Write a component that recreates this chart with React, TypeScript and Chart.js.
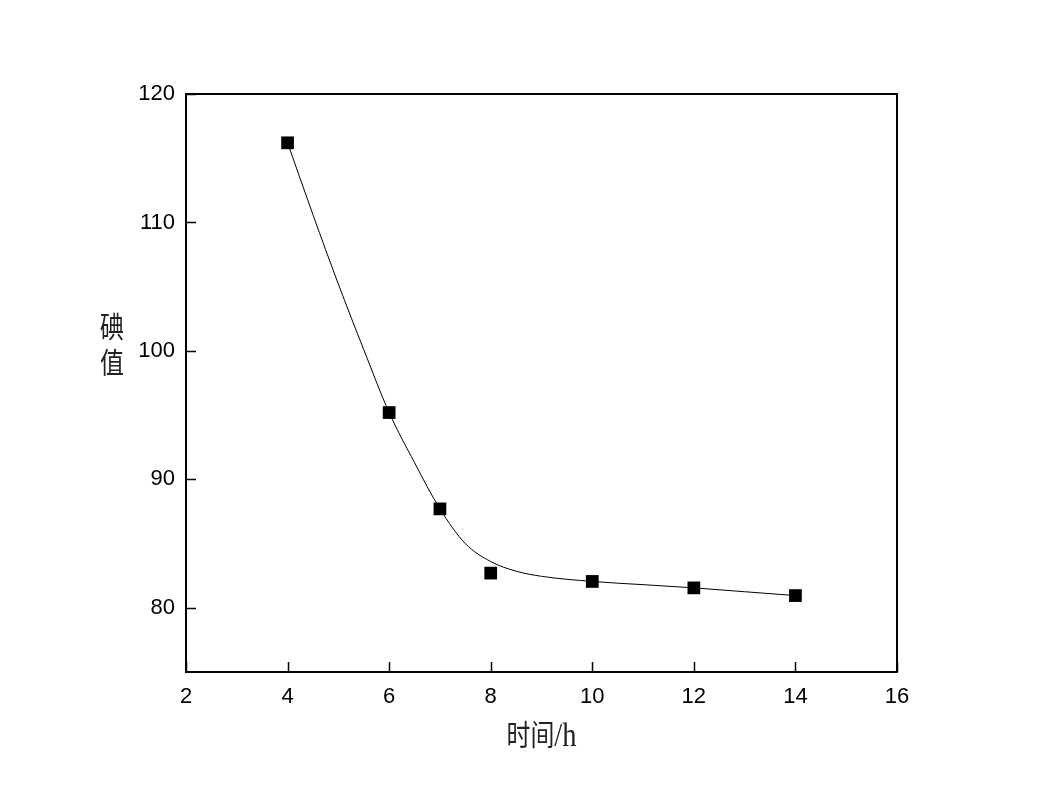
import React, { useEffect, useRef } from "react";
import { Chart, registerables } from "chart.js";

Chart.register(...registerables);

// Measured points
const timeH = [4, 6, 7, 8, 10, 12, 14];
const iodineValue = [116.2, 95.2, 87.7, 82.7, 82.05, 81.55, 80.95];

// Fitted curve
const curveX = [4, 4.5, 5, 5.5, 6, 6.5, 7, 7.5, 8, 8.5, 9, 10, 11, 12, 13, 14];
const curveY = [116.2, 110.6, 105.2, 100.1, 95.2, 91.3, 87.7, 85.0, 83.6, 82.85, 82.45, 82.05, 81.8, 81.55, 81.25, 80.95];

const xTicks = [2, 4, 6, 8, 10, 12, 14, 16];
const yTicks = [80, 90, 100, 110, 120];

const xTitleCJK = "时间";
const xTitleUnit = "/h";
const yTitleChars = ["碘", "值"];

const framePlugin = {
  id: "frame",
  afterDraw(chart: any) {
    const { ctx, chartArea } = chart;
    const xs = chart.scales.x;
    const ys = chart.scales.y;
    ctx.save();
    ctx.strokeStyle = "#000";
    ctx.lineWidth = 2;
    ctx.strokeRect(chartArea.left, chartArea.top, chartArea.right - chartArea.left, chartArea.bottom - chartArea.top);
    ctx.lineWidth = 1.5;
    ctx.beginPath();
    for (const v of xTicks) {
      const px = Math.round(xs.getPixelForValue(v)) + 0.5;
      ctx.moveTo(px, chartArea.bottom);
      ctx.lineTo(px, chartArea.bottom - 10);
    }
    for (const v of yTicks) {
      const py = Math.round(ys.getPixelForValue(v)) + 0.5;
      ctx.moveTo(chartArea.left, py);
      ctx.lineTo(chartArea.left + 10, py);
    }
    ctx.stroke();

    // axis titles
    ctx.fillStyle = "#222";
    ctx.textBaseline = "alphabetic";
    const cjkFont = "26px 'Noto Sans CJK SC'";
    const unitFont = "31px 'Liberation Serif'";
    ctx.font = cjkFont;
    const w1 = ctx.measureText(xTitleCJK).width * 0.92;
    ctx.font = unitFont;
    const w2 = ctx.measureText(xTitleUnit).width * 0.92;
    const cx = (chartArea.left + chartArea.right) / 2;
    const startX = cx - (w1 + w2) / 2;
    const baseY = 746;
    ctx.save();
    ctx.translate(startX, baseY);
    ctx.scale(0.92, 1.12);
    ctx.textAlign = "left";
    ctx.font = cjkFont;
    ctx.fillText(xTitleCJK, 0, 0);
    ctx.font = unitFont;
    ctx.fillText(xTitleUnit, w1 / 0.92, 0);
    ctx.restore();

    ctx.textAlign = "center";
    ctx.textBaseline = "middle";
    ctx.font = cjkFont;
    const cy = (chartArea.top + chartArea.bottom) / 2;
    yTitleChars.forEach((ch, i) => {
      ctx.save();
      ctx.translate(112, cy - 56 + i * 36);
      ctx.scale(0.92, 1.12);
      ctx.fillText(ch, 0, 0);
      ctx.restore();
    });
    ctx.restore();
  },
};

export default function App() {
  const ref = useRef<HTMLCanvasElement>(null);
  useEffect(() => {
    if (!ref.current) return;
    const chart = new Chart(ref.current, {
      type: "line",
      data: {
        datasets: [
          {
            data: timeH.map((x, i) => ({ x, y: iodineValue[i] })),
            showLine: false,
            pointStyle: "rect",
            pointRadius: 9,
            pointBackgroundColor: "#000",
            pointBorderColor: "#000",
            pointBorderWidth: 0,
            order: 0,
          },
          {
            data: curveX.map((x, i) => ({ x, y: curveY[i] })),
            borderColor: "#000",
            borderWidth: 1,
            pointRadius: 0,
            cubicInterpolationMode: "monotone",
            fill: false,
            order: 1,
          },
        ],
      },
      options: {
        animation: false,
        responsive: true,
        maintainAspectRatio: false,
        layout: { padding: { top: 94, right: 146, left: 0, bottom: 0 } },
        plugins: { legend: { display: false }, tooltip: { enabled: false } },
        scales: {
          x: {
            type: "linear",
            min: 2,
            max: 16,
            afterBuildTicks: (s: any) => {
              s.ticks = xTicks.map((v) => ({ value: v }));
            },
            afterFit: (s: any) => {
              s.height = 134;
            },
            grid: { display: false, drawTicks: false },
            border: { display: false },
            ticks: {
              padding: 12,
              color: "#000",
              font: { family: "'Liberation Sans', Arial", size: 22 },
              maxRotation: 0,
            },
          },
          y: {
            type: "linear",
            min: 75,
            max: 120,
            afterBuildTicks: (s: any) => {
              s.ticks = yTicks.map((v) => ({ value: v }));
            },
            afterFit: (s: any) => {
              s.width = 186;
            },
            grid: { display: false, drawTicks: false },
            border: { display: false },
            ticks: {
              padding: 11,
              color: "#000",
              font: { family: "'Liberation Sans', Arial", size: 22 },
            },
          },
        },
      },
      plugins: [framePlugin],
    });
    return () => chart.destroy();
  }, []);
  return (
    <div style={{ position: "fixed", left: 0, top: 0, width: 1043, height: 806, background: "#fff" }}>
      <canvas ref={ref} />
    </div>
  );
}
